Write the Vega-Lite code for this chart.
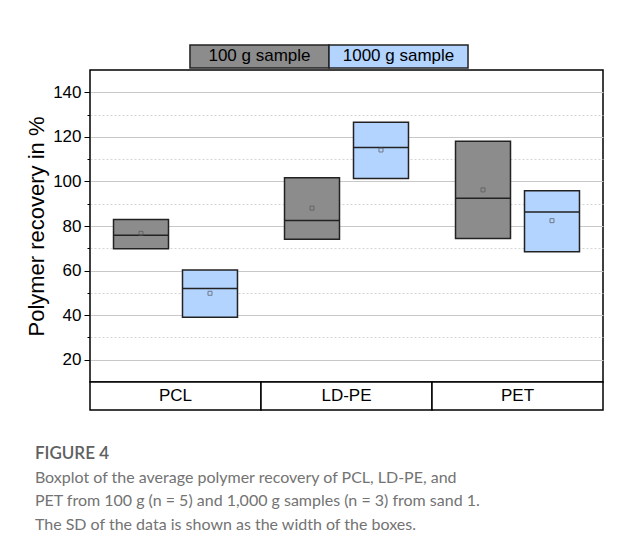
{
  "$schema": "https://vega.github.io/schema/vega-lite/v6.json",
  "padding": {"left": 24, "top": 44, "right": 12, "bottom": 10},
  "background": "white",
  "config": {
    "view": {"stroke": null},
    "font": "Liberation Sans"
  },
  "datasets": {
    "boxes": [
      {"category": "PCL", "sample": "100 g sample", "low": 69.8, "high": 82.9, "median": 75.8, "mean": 76.7},
      {"category": "PCL", "sample": "1000 g sample", "low": 39.1, "high": 60.3, "median": 52.0, "mean": 49.8},
      {"category": "LD-PE", "sample": "100 g sample", "low": 74.1, "high": 101.7, "median": 82.5, "mean": 88.0},
      {"category": "LD-PE", "sample": "1000 g sample", "low": 101.3, "high": 126.5, "median": 115.2, "mean": 114.1},
      {"category": "PET", "sample": "100 g sample", "low": 74.4, "high": 118.0, "median": 92.5, "mean": 96.2},
      {"category": "PET", "sample": "1000 g sample", "low": 68.4, "high": 95.8, "median": 86.3, "mean": 82.4}
    ],
    "samples": [
      {"sample": "100 g sample"},
      {"sample": "1000 g sample"}
    ],
    "cats": [
      {"category": "PCL"},
      {"category": "LD-PE"},
      {"category": "PET"}
    ]
  },
  "title": {
    "text": "FIGURE 4",
    "subtitle": [
      "Boxplot of the average polymer recovery of PCL, LD-PE, and",
      "PET from 100 g (n = 5) and 1,000 g samples (n = 3) from sand 1.",
      "The SD of the data is shown as the width of the boxes."
    ],
    "orient": "bottom",
    "anchor": "start",
    "frame": "bounds",
    "dx": 10,
    "offset": 35,
    "font": "Lato",
    "fontSize": 17,
    "fontWeight": 600,
    "color": "#606060",
    "subtitleFont": "Lato",
    "subtitleFontSize": 16,
    "subtitleColor": "#737373",
    "subtitleLineHeight": 23.5,
    "subtitlePadding": 7
  },
  "spacing": 0,
  "bounds": "flush",
  "resolve": {"scale": {"x": "independent", "y": "independent"}},
  "vconcat": [
    {
      "width": 513,
      "height": 25,
      "data": {"name": "samples"},
      "encoding": {
        "x": {"field": "sample", "type": "nominal", "sort": null,
              "scale": {"domain": ["100 g sample", "1000 g sample"], "paddingInner": 0, "paddingOuter": 0.845, "align": 0.4255},
              "axis": null},
        "y": {"datum": "legend", "type": "nominal",
              "scale": {"paddingInner": 0, "paddingOuter": 0.0435, "align": 0},
              "axis": null}
      },
      "layer": [
        {"mark": {"type": "rect", "stroke": "#222222", "strokeWidth": 1.5},
         "encoding": {"fill": {"field": "sample", "type": "nominal",
                               "scale": {"domain": ["100 g sample", "1000 g sample"], "range": ["#8c8c8c", "#b3d4ff"]},
                               "legend": null}}},
        {"mark": {"type": "text", "fontSize": 17, "font": "Liberation Sans", "color": "black"},
         "encoding": {"text": {"field": "sample"}}}
      ]
    },
    {
      "width": 513,
      "height": 312,
      "view": {"stroke": "black", "strokeWidth": 1.5},
      "data": {"name": "boxes"},
      "encoding": {
        "x": {"field": "category", "type": "nominal", "sort": null,
              "scale": {"domain": ["PCL", "LD-PE", "PET"], "paddingInner": 0.275, "paddingOuter": 0.1375},
              "axis": null},
        "xOffset": {"field": "sample", "type": "nominal",
                    "scale": {"domain": ["100 g sample", "1000 g sample"], "paddingInner": 0.203, "paddingOuter": 0}}
      },
      "layer": [
        {"mark": {"type": "rect", "stroke": "#222222", "strokeWidth": 1.5},
         "encoding": {
           "y": {"field": "low", "type": "quantitative",
                 "scale": {"domain": [10, 150], "nice": false, "zero": false},
                 "axis": {"orient": "left", "values": [20, 40, 60, 80, 100, 120, 140],
                          "grid": true, "gridColor": "#c8c8c8", "gridWidth": 1,
                          "domain": false, "tickColor": "black", "tickSize": 6, "tickWidth": 1,
                          "labelFont": "Liberation Sans", "labelFontSize": 17, "labelColor": "black", "labelPadding": 3,
                          "title": "Polymer recovery in %", "titleFont": "Liberation Sans", "titleFontSize": 22,
                          "titleFontWeight": "normal", "titleColor": "black", "titlePadding": 4}},
           "y2": {"field": "high"},
           "fill": {"field": "sample", "type": "nominal",
                    "scale": {"domain": ["100 g sample", "1000 g sample"], "range": ["#8c8c8c", "#b3d4ff"]},
                    "legend": null}
         }},
        {"mark": {"type": "rect", "stroke": "#222222", "strokeWidth": 1.5, "fillOpacity": 0},
         "encoding": {
           "y": {"field": "median", "type": "quantitative",
                 "axis": {"orient": "left", "values": [30, 50, 70, 90, 110, 130],
                          "grid": true, "gridColor": "#d4d4d4", "gridDash": [2, 2], "gridWidth": 1,
                          "domain": false, "labels": false, "tickColor": "black", "tickSize": 3, "tickWidth": 1,
                          "title": null}},
           "y2": {"field": "median"}
         }},
        {"mark": {"type": "point", "shape": "square", "size": 16, "filled": false, "stroke": "#555555", "strokeWidth": 1},
         "encoding": {
           "y": {"field": "mean", "type": "quantitative", "axis": null}
         }}
      ],
      "resolve": {"axis": {"y": "independent"}}
    },
    {
      "width": 513,
      "height": 28,
      "data": {"name": "cats"},
      "encoding": {
        "x": {"field": "category", "type": "nominal", "sort": null,
              "scale": {"domain": ["PCL", "LD-PE", "PET"], "paddingInner": 0, "paddingOuter": 0},
              "axis": null}
      },
      "layer": [
        {"mark": {"type": "rect", "fill": "white", "stroke": "black", "strokeWidth": 1.5}},
        {"mark": {"type": "text", "fontSize": 17, "font": "Liberation Sans", "color": "black"},
         "encoding": {"text": {"field": "category"}}}
      ]
    }
  ]
}
